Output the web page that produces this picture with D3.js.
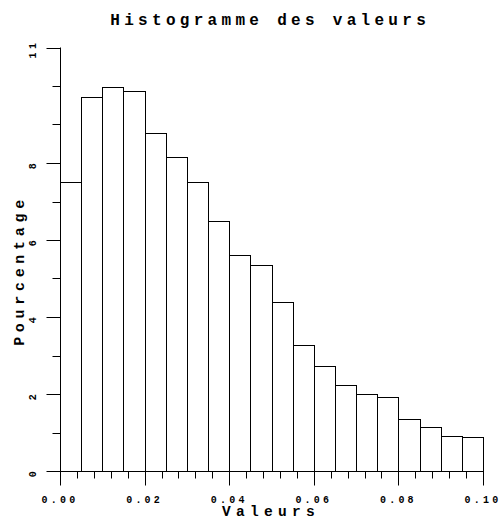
<!DOCTYPE html>
<html><head><meta charset="utf-8">
<script src="https://cdn.jsdelivr.net/npm/d3@7"></script>
<style>
html,body{margin:0;padding:0;background:#fff;}
svg{display:block;}
text{font-family:"Liberation Mono","DejaVu Sans Mono",monospace;font-weight:bold;fill:#000;}
</style></head>
<body>
<script>
const binStarts = [0.000,0.005,0.010,0.015,0.020,0.025,0.030,0.035,0.040,0.045,0.050,0.055,0.060,0.065,0.070,0.075,0.080,0.085,0.090,0.095];
const binWidth = 0.005;
const percentages = [7.51,9.72,9.98,9.87,8.77,8.15,7.51,6.49,5.60,5.34,4.38,3.26,2.72,2.23,1.99,1.91,1.36,1.15,0.91,0.88];
const xMajorTicks = [0.00,0.02,0.04,0.06,0.08,0.10];
const xMinorTicks = [0.004,0.008,0.012,0.016,0.024,0.028,0.032,0.036,0.044,0.048,0.052,0.056,0.064,0.068,0.072,0.076,0.084,0.088,0.092,0.096];
const yMajorTicks = [0,2,4,6,8,11];
const yMinorTicks = [1,3,5,7,9,10];
const title = "Histogramme des valeurs";
const xTitle = "Valeurs";
const yTitle = "Pourcentage";

const W = 501, H = 519;
const svg = d3.select("body").append("svg").attr("width", W).attr("height", H);

const x = d3.scaleLinear().domain([0, 0.1]).range([60, 483]);
const y = d3.scaleLinear().domain([0, 11]).range([471, 47.5]);

// bars
svg.append("g").selectAll("rect").data(binStarts).join("rect")
  .attr("x", d => Math.round(x(d)) + 0.5)
  .attr("y", (d, i) => Math.round(y(percentages[i])) + 0.5)
  .attr("width", d => Math.round(x(d + binWidth)) - Math.round(x(d)))
  .attr("height", (d, i) => Math.round(y(0)) - Math.round(y(percentages[i])))
  .attr("fill", "#fff").attr("stroke", "#000").attr("stroke-width", 1);

// x axis
const gx = svg.append("g").attr("transform", `translate(0,${Math.round(y(0)) + 0.5})`);
gx.append("line").attr("x1", x(0)).attr("x2", x(0.1)).attr("stroke", "#000");
gx.selectAll("line.maj").data(xMajorTicks).join("line").attr("class","maj")
  .attr("x1", d => Math.round(x(d)) + 0.5).attr("x2", d => Math.round(x(d)) + 0.5)
  .attr("y1", 0).attr("y2", 14).attr("stroke", "#000");
gx.selectAll("line.min").data(xMinorTicks).join("line").attr("class","min")
  .attr("x1", d => Math.round(x(d)) + 0.5).attr("x2", d => Math.round(x(d)) + 0.5)
  .attr("y1", 0).attr("y2", 7).attr("stroke", "#000");
gx.selectAll("text").data(xMajorTicks).join("text")
  .attr("x", d => x(d)).attr("y", 31)
  .attr("text-anchor", "middle").attr("font-size", 10).attr("letter-spacing", 3.2)
  .text(d => d3.format(".2f")(d));

// y axis
const gy = svg.append("g").attr("transform", `translate(${Math.round(x(0)) + 0.5},0)`);
gy.append("line").attr("y1", y(0)).attr("y2", y(11)).attr("stroke", "#000");
gy.selectAll("line.maj").data(yMajorTicks).join("line").attr("class","maj")
  .attr("y1", d => Math.round(y(d)) + 0.5).attr("y2", d => Math.round(y(d)) + 0.5)
  .attr("x1", 0).attr("x2", -14).attr("stroke", "#000");
gy.selectAll("line.min").data(yMinorTicks).join("line").attr("class","min")
  .attr("y1", d => Math.round(y(d)) + 0.5).attr("y2", d => Math.round(y(d)) + 0.5)
  .attr("x1", 0).attr("x2", -8).attr("stroke", "#000");
gy.selectAll("text").data(yMajorTicks).join("text")
  .attr("transform", d => `translate(-25,${y(d) + 1.5}) rotate(-90)`)
  .attr("text-anchor", "middle").attr("font-size", 10).attr("letter-spacing", 3.4)
  .text(d => d);

// titles
svg.append("text").attr("x", 268 + 2.2).attr("y", 25)
  .attr("text-anchor", "middle").attr("font-size", 16).attr("letter-spacing", 4.3)
  .text(title);
svg.append("text").attr("x", 268.5 + 2.6).attr("y", 516)
  .attr("text-anchor", "middle").attr("font-size", 14.5).attr("letter-spacing", 5.3)
  .text(xTitle);
svg.append("text").attr("transform", `translate(24,${268 + 2.5}) rotate(-90)`)
  .attr("text-anchor", "middle").attr("font-size", 15).attr("letter-spacing", 4.7)
  .text(yTitle);
</script>
</body></html>
